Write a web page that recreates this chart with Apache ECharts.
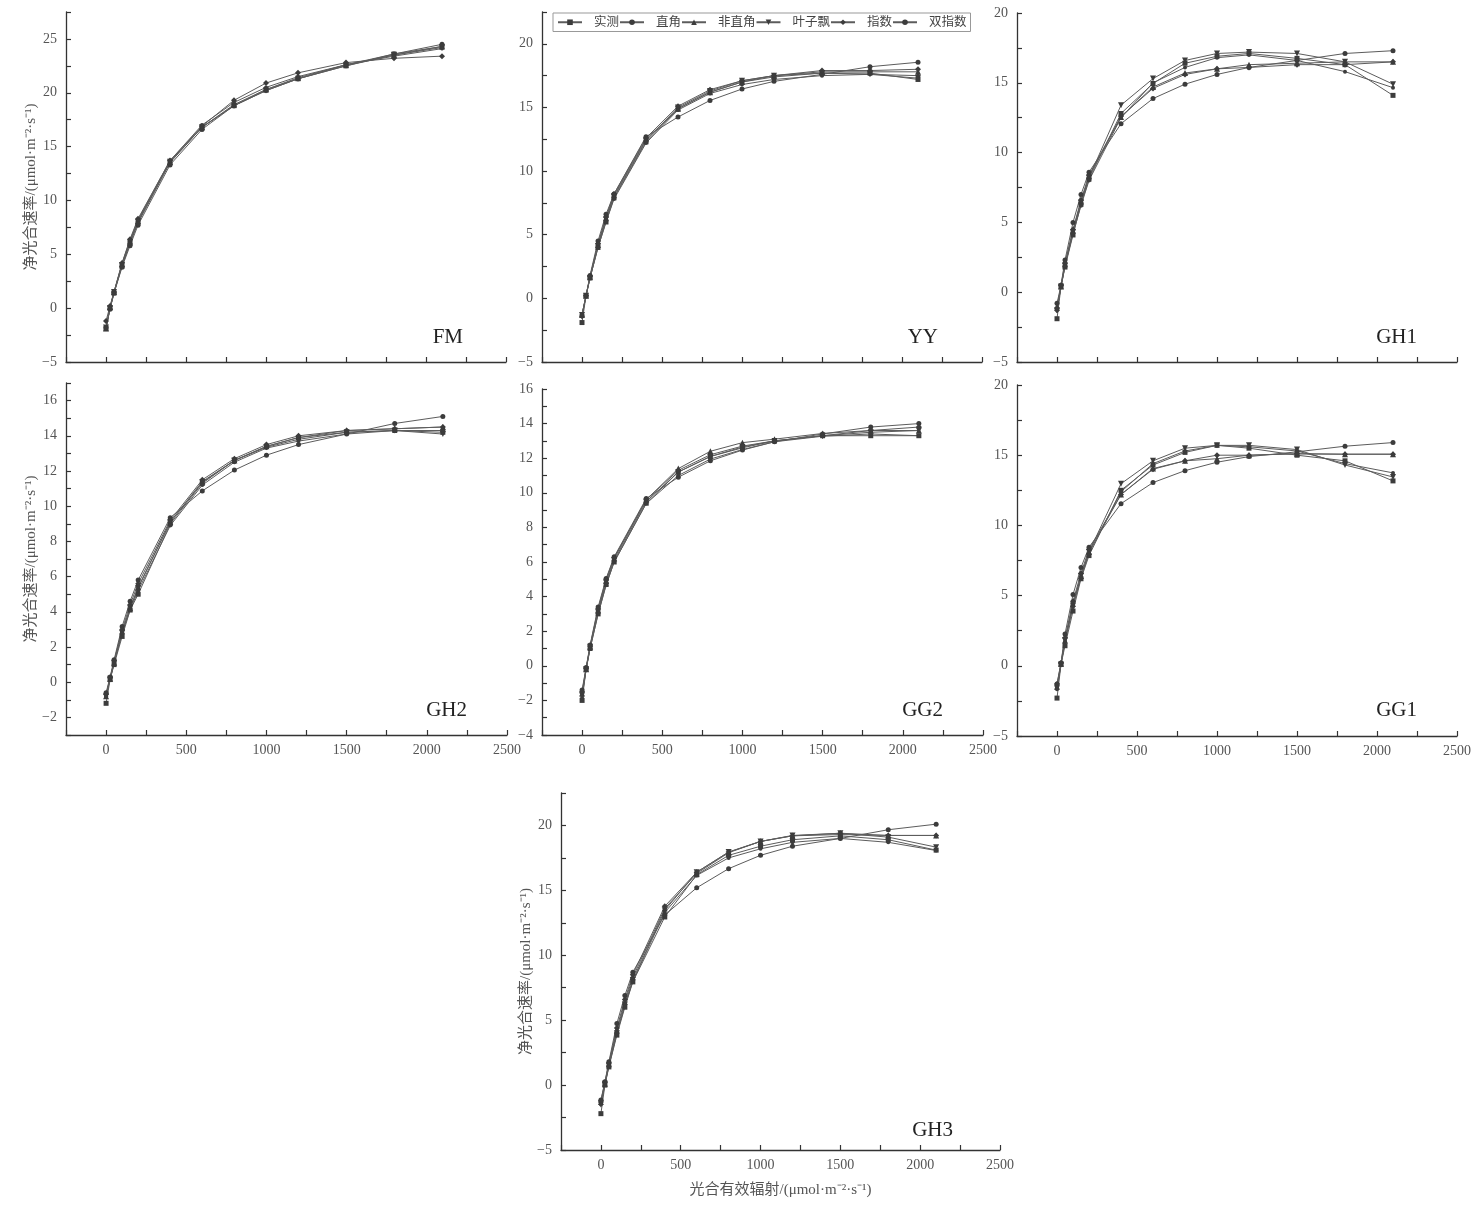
<!DOCTYPE html>
<html><head><meta charset="utf-8">
<script src="https://cdn.jsdelivr.net/npm/echarts@6/dist/echarts.min.js"></script>
<style>html,body{margin:0;padding:0;background:#fff}#c{width:1476px;height:1224px}</style>
</head><body><div id="c"></div>
<script>
// light levels (PAR)
const light = [0, 25, 50, 100, 150, 200, 400, 600, 800, 1000, 1200, 1500, 1800, 2100];
const seriesNames = ['实测', '直角', '非直角', '叶子飘', '指数', '双指数'];
const panelNames = ['FM', 'YY', 'GH1', 'GH2', 'GG2', 'GG1', 'GH3'];

// FM
const FM_measured = [-1.9, 0.0, 1.4, 3.9, 6.0, 7.9, 13.5, 16.8, 18.8, 20.3, 21.3, 22.5, 23.6, 24.3];
const FM_rect     = [-1.8, -0.1, 1.4, 3.8, 5.8, 7.7, 13.3, 16.6, 18.8, 20.2, 21.3, 22.6, 23.6, 24.5];
const FM_nonrect  = [-1.9, 0.1, 1.5, 4.1, 6.2, 8.1, 13.6, 16.8, 18.9, 20.3, 21.4, 22.6, 23.5, 24.3];
const FM_ye       = [-1.8, 0.0, 1.5, 4.0, 6.1, 8.0, 13.6, 16.8, 18.8, 20.2, 21.3, 22.5, 23.5, 24.2];
const FM_exp      = [-1.2, 0.2, 1.5, 4.2, 6.4, 8.3, 13.7, 16.9, 19.3, 20.9, 21.85, 22.8, 23.2, 23.4];
const FM_dexp     = [-1.9, 0.0, 1.4, 4.1, 6.3, 8.2, 13.7, 17.0, 19.1, 20.5, 21.5, 22.6, 23.4, 24.1];
// YY
const YY_measured = [-1.9, 0.2, 1.6, 4.0, 6.0, 7.9, 12.3, 14.9, 16.2, 17.0, 17.4, 17.7, 17.7, 17.2];
const YY_rect     = [-1.3, 0.2, 1.8, 4.5, 6.6, 8.2, 12.7, 14.25, 15.55, 16.45, 17.05, 17.6, 18.2, 18.55];
const YY_nonrect  = [-1.3, 0.2, 1.7, 4.2, 6.3, 8.1, 12.5, 14.9, 16.2, 17.0, 17.5, 17.8, 17.8, 17.8];
const YY_ye       = [-1.3, 0.2, 1.6, 4.1, 6.2, 8.0, 12.4, 15.0, 16.3, 17.1, 17.5, 17.7, 17.6, 17.3];
const YY_exp      = [-1.4, 0.2, 1.7, 4.3, 6.4, 8.2, 12.6, 15.1, 16.4, 17.1, 17.5, 17.9, 17.9, 18.0];
const YY_dexp     = [-1.3, 0.2, 1.6, 4.0, 6.0, 7.8, 12.2, 14.8, 16.1, 16.8, 17.2, 17.5, 17.6, 17.5];
// GH1
const GH1_measured = [-1.9, 0.4, 1.8, 4.1, 6.3, 8.1, 12.8, 14.95, 16.4, 16.9, 17.1, 16.75, 16.3, 14.1];
const GH1_rect     = [-0.8, 0.5, 2.3, 5.0, 7.0, 8.6, 12.07, 13.87, 14.9, 15.6, 16.1, 16.6, 17.1, 17.3];
const GH1_nonrect  = [-1.0, 0.4, 2.0, 4.4, 6.5, 8.3, 12.55, 14.7, 15.7, 16.0, 16.3, 16.4, 16.5, 16.5];
const GH1_ye       = [-1.3, 0.4, 1.9, 4.3, 6.4, 8.2, 13.4, 15.3, 16.6, 17.1, 17.2, 17.1, 16.5, 14.9];
const GH1_exp      = [-1.3, 0.5, 2.1, 4.5, 6.6, 8.4, 12.6, 14.6, 15.6, 16.0, 16.1, 16.3, 16.3, 16.5];
const GH1_dexp     = [-1.2, 0.4, 1.9, 4.2, 6.2, 8.0, 12.5, 15.0, 16.1, 16.8, 17.0, 16.6, 15.8, 14.65];
// GH2
const GH2_measured = [-1.2, 0.15, 1.0, 2.6, 4.1, 5.0, 9.0, 11.3, 12.6, 13.4, 13.9, 14.2, 14.3, 14.2];
const GH2_rect     = [-0.6, 0.3, 1.27, 3.17, 4.6, 5.8, 9.35, 10.87, 12.05, 12.9, 13.5, 14.1, 14.7, 15.1];
const GH2_nonrect  = [-0.8, 0.2, 1.1, 2.9, 4.2, 5.4, 9.1, 11.4, 12.6, 13.4, 13.9, 14.3, 14.4, 14.5];
const GH2_ye       = [-0.8, 0.2, 1.1, 2.8, 4.2, 5.35, 9.1, 11.35, 12.6, 13.35, 13.8, 14.2, 14.3, 14.1];
const GH2_exp      = [-0.7, 0.25, 1.2, 3.0, 4.4, 5.6, 9.2, 11.5, 12.7, 13.5, 14.0, 14.3, 14.4, 14.5];
const GH2_dexp     = [-0.8, 0.2, 1.1, 2.8, 4.1, 5.2, 8.9, 11.2, 12.5, 13.3, 13.7, 14.1, 14.3, 14.3];
// GG2
const GG2_measured = [-2.0, -0.2, 1.0, 3.0, 4.7, 6.0, 9.4, 11.2, 12.1, 12.6, 13.0, 13.3, 13.3, 13.3];
const GG2_rect     = [-1.4, -0.1, 1.2, 3.4, 5.05, 6.3, 9.67, 10.9, 11.85, 12.47, 12.95, 13.4, 13.8, 14.0];
const GG2_nonrect  = [-1.6, -0.2, 1.1, 3.2, 4.9, 6.2, 9.6, 11.4, 12.4, 12.9, 13.1, 13.43, 13.6, 13.6];
const GG2_ye       = [-1.7, -0.2, 1.1, 3.1, 4.8, 6.1, 9.5, 11.2, 12.1, 12.65, 13.0, 13.3, 13.5, 13.6];
const GG2_exp      = [-1.5, -0.15, 1.15, 3.3, 5.0, 6.25, 9.6, 11.3, 12.2, 12.7, 13.0, 13.3, 13.6, 13.8];
const GG2_dexp     = [-1.8, -0.2, 1.0, 3.0, 4.66, 6.0, 9.38, 11.0, 11.95, 12.5, 12.95, 13.27, 13.4, 13.3];
// GG1
const GG1_measured = [-2.3, 0.1, 1.43, 3.9, 6.2, 7.85, 12.5, 14.3, 15.2, 15.7, 15.5, 15.0, 14.6, 13.17];
const GG1_rect     = [-1.3, 0.2, 2.26, 5.07, 7.0, 8.45, 11.55, 13.05, 13.9, 14.5, 14.9, 15.24, 15.64, 15.9];
const GG1_nonrect  = [-1.5, 0.15, 1.8, 4.4, 6.4, 8.1, 12.2, 14.05, 14.6, 14.75, 15.0, 15.1, 15.07, 15.07];
const GG1_ye       = [-1.6, 0.1, 1.8, 4.3, 6.4, 8.1, 12.97, 14.6, 15.5, 15.7, 15.7, 15.4, 14.3, 13.45];
const GG1_exp      = [-1.3, 0.2, 2.0, 4.6, 6.6, 8.3, 12.2, 14.0, 14.6, 15.0, 15.0, 15.1, 15.07, 15.07];
const GG1_dexp     = [-1.67, 0.1, 1.7, 4.2, 6.3, 8.0, 12.4, 14.4, 15.3, 15.7, 15.6, 15.3, 14.4, 13.74];
// GH3
const GH3_measured = [-2.2, 0.0, 1.4, 3.85, 6.0, 7.95, 12.95, 16.2, 17.7, 18.4, 18.9, 19.2, 18.9, 18.1];
const GH3_rect     = [-1.15, 0.25, 1.8, 4.74, 6.9, 8.7, 13.1, 15.2, 16.67, 17.7, 18.4, 19.0, 19.67, 20.1];
const GH3_nonrect  = [-1.3, 0.1, 1.6, 4.2, 6.4, 8.3, 13.6, 16.3, 17.9, 18.77, 19.2, 19.3, 19.23, 19.23];
const GH3_ye       = [-1.5, 0.1, 1.5, 4.0, 6.2, 8.1, 13.46, 16.4, 17.95, 18.77, 19.23, 19.4, 19.1, 18.33];
const GH3_exp      = [-1.2, 0.2, 1.7, 4.4, 6.6, 8.5, 13.77, 16.4, 17.95, 18.77, 19.2, 19.4, 19.23, 19.23];
const GH3_dexp     = [-1.5, 0.0, 1.5, 4.0, 6.1, 8.0, 13.3, 16.15, 17.5, 18.2, 18.7, 19.0, 18.7, 18.07];

// axis tick settings
const yMins = [-5, -5, -5, -3, -4, -5, -5];
const yMaxs = [27.5, 22.5, 20, 17, 16, 20, 22.5];
const yTickSteps = [2.5, 2.5, 2.5, 1, 1, 2.5, 2.5];
const yLabelSteps = [5, 5, 5, 2, 2, 5, 5];
const xMin = -250, xMax = 2500, xTickStep = 250, xLabelStep = 500;

const yTitle = '净光合速率/(μmol·m⁻²·s⁻¹)';
const xTitle = '光合有效辐射/(μmol·m⁻²·s⁻¹)';

const panelData = [
  [FM_measured, FM_rect, FM_nonrect, FM_ye, FM_exp, FM_dexp],
  [YY_measured, YY_rect, YY_nonrect, YY_ye, YY_exp, YY_dexp],
  [GH1_measured, GH1_rect, GH1_nonrect, GH1_ye, GH1_exp, GH1_dexp],
  [GH2_measured, GH2_rect, GH2_nonrect, GH2_ye, GH2_exp, GH2_dexp],
  [GG2_measured, GG2_rect, GG2_nonrect, GG2_ye, GG2_exp, GG2_dexp],
  [GG1_measured, GG1_rect, GG1_nonrect, GG1_ye, GG1_exp, GG1_dexp],
  [GH3_measured, GH3_rect, GH3_nonrect, GH3_ye, GH3_exp, GH3_dexp]
];

const SERIF = '"Liberation Serif", "Noto Sans CJK SC", serif';
const gridRects = [
  {left: 66, top: 12, width: 440, height: 350},
  {left: 542, top: 12, width: 440, height: 350},
  {left: 1017, top: 13, width: 440, height: 349},
  {left: 66, top: 383, width: 441, height: 352},
  {left: 542, top: 389, width: 441, height: 346},
  {left: 1017, top: 385, width: 440, height: 351},
  {left: 561, top: 793, width: 439, height: 357}
];
const showXLabels = [false, false, false, true, true, true, true];
const showYName = [true, false, false, true, false, false, true];
const panelLabelPos = [[463, 337], [938, 337], [1417, 337], [467, 710], [943, 710], [1417, 710], [953, 1130]];
const symbols = ['rect', 'circle', 'triangle', 'triangle', 'diamond', 'circle'];
const symbolRot = [0, 0, 0, 180, 0, 0];
const symbolSizes = [5, 5, 6, 6, 6, 4];

function fmt(step) {
  return function (v) {
    const r = v / step;
    if (Math.abs(r - Math.round(r)) > 1e-6) return '';
    return v < 0 ? '\u2212' + Math.abs(v) : String(v);
  };
}

const axisLine = {show: true, onZero: false, lineStyle: {color: '#333', width: 1.3}};
const axisTick = {show: true, inside: true, length: 5, lineStyle: {color: '#333', width: 1.2}};

const grid = [], xAxis = [], yAxis = [], series = [], graphic = [];
for (let i = 0; i < 7; i++) {
  grid.push(Object.assign({containLabel: false}, gridRects[i]));
  xAxis.push({
    type: 'value', gridIndex: i, min: xMin, max: xMax, interval: xTickStep,
    axisLine, axisTick, splitLine: {show: false},
    axisLabel: {show: showXLabels[i], formatter: fmt(xLabelStep), margin: 8, color: '#555', fontSize: 14, fontFamily: SERIF, showMinLabel: true, showMaxLabel: true},
    name: i === 6 ? xTitle : '', nameLocation: 'middle', nameGap: 33,
    nameTextStyle: {fontSize: 15, color: '#555', fontFamily: SERIF}
  });
  yAxis.push({
    type: 'value', gridIndex: i, min: yMins[i], max: yMaxs[i], interval: yTickSteps[i],
    axisLine, axisTick, splitLine: {show: false},
    axisLabel: {formatter: fmt(yLabelSteps[i]), margin: 9, color: '#555', fontSize: 14, fontFamily: SERIF},
    name: showYName[i] ? yTitle : '', nameLocation: 'middle', nameGap: 27, nameRotate: 90,
    nameTextStyle: {fontSize: 15, color: '#555', fontFamily: SERIF}
  });
  for (let s = 0; s < 6; s++) {
    const vals = panelData[i][s];
    series.push({
      type: 'line', name: seriesNames[s], xAxisIndex: i, yAxisIndex: i,
      data: light.map((x, k) => [x, vals[k]]),
      symbol: symbols[s], symbolRotate: symbolRot[s], symbolSize: symbolSizes[s],
      showSymbol: true,
      lineStyle: {color: '#5c5c5c', width: 1},
      itemStyle: {color: '#3c3c3c'},
      emphasis: {disabled: true},
      z: 2
    });
  }
  graphic.push({
    type: 'text', x: panelLabelPos[i][0], y: panelLabelPos[i][1],
    style: {text: panelNames[i], textAlign: 'right', textVerticalAlign: 'middle', font: '21px "Liberation Serif", serif', fill: '#222'}
  });
}

const chart = echarts.init(document.getElementById('c'), null, {renderer: 'canvas'});
chart.setOption({
  animation: false,
  backgroundColor: '#fff',
  grid, xAxis, yAxis, series, graphic,
  legend: {
    data: seriesNames, left: 553, top: 13, orient: 'horizontal',
    itemWidth: 24, itemHeight: 7, itemGap: 0, padding: [3, 4, 3, 4],
    borderColor: '#999', borderWidth: 1, backgroundColor: '#fff',
    textStyle: {fontSize: 12.5, color: '#444', fontFamily: SERIF, padding: [0, 0, 0, 7]}
  }
});
</script>
</body></html>
